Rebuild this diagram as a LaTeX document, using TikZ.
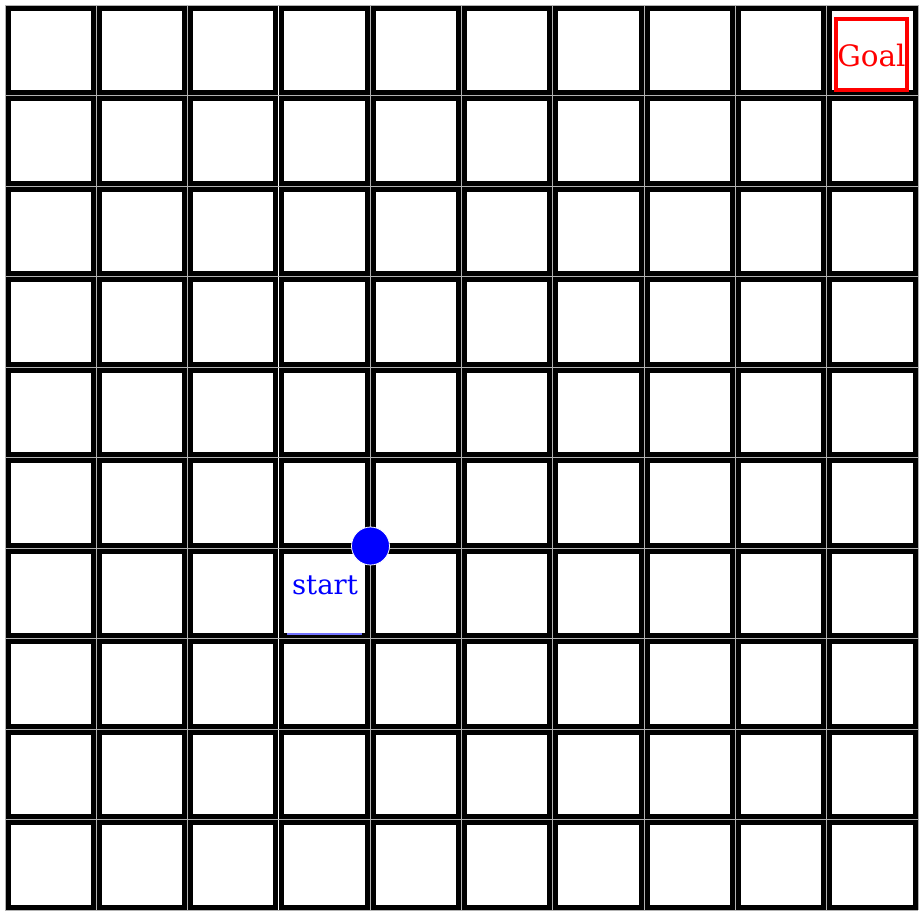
\documentclass[tikz,border=0pt]{standalone}
\usepackage{fontspec}
\setmainfont{DejaVu Serif}
\begin{document}
\begin{tikzpicture}[x=1pt,y=-1pt,
  gridline/.style={draw=black!30, line width=0.7pt},
  cell/.style={draw=black, line width=5pt},
  goalbox/.style={draw=red, line width=4pt, minimum size=71pt, inner sep=0pt},
  goaltext/.style={text=red, font=\fontsize{29.5}{32}\selectfont, inner sep=0pt},
  starttext/.style={text=blue, font=\fontsize{27.5}{30}\selectfont, inner sep=0pt},
  agentdot/.style={circle, fill=blue, draw=white, line width=0.8pt, minimum size=38pt, inner sep=0pt},
  underline/.style={draw=blue!55, line width=1.5pt}]
\useasboundingbox (0,0) rectangle (923,910);
\fill[white] (0,0) rectangle (923,910);
% gray grid lines between cells
\foreach \i in {0,...,10} {
  \draw[gridline] ({5+91.3*\i},5) -- ({5+91.3*\i},910);
  \draw[gridline] (5,{5+90.5*\i}) -- (918,{5+90.5*\i});
}
% cells
\foreach \i in {0,...,9} {
  \foreach \j in {0,...,9} {
    \draw[cell] ({5+91.3*\i+3},{5+90.5*\j+3}) rectangle ({5+91.3*(\i+1)-3},{5+90.5*(\j+1)-3});
  }
}
% goal
\node[goalbox] (goal) at (871.5,54) {};
\node[goaltext, anchor=base] (goallbl) at (871.5,66.7) {Goal};
% start
\node[starttext, anchor=base] (startlbl) at (325,594) {start};
\coordinate (ulA) at (287,634);
\coordinate (ulB) at (362,634);
\draw[underline] (ulA) -- (ulB);
% agent
\node[agentdot] (agent) at (370.5,546) {};
\end{tikzpicture}
\end{document}
